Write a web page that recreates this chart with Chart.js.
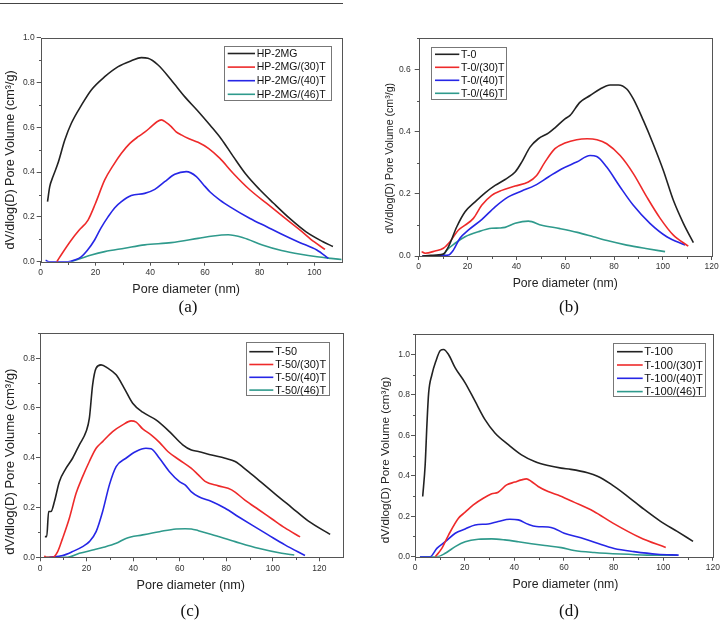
<!DOCTYPE html>
<html><head><meta charset="utf-8">
<script src="https://cdn.jsdelivr.net/npm/chart.js@4.4.1/dist/chart.umd.min.js"></script>
<style>
html,body{margin:0;padding:0;background:#fff;}
body{width:722px;height:621px;position:relative;overflow:hidden;}
canvas{position:absolute;}
.lab{position:absolute;font-family:'Liberation Serif','Times New Roman',serif;font-size:17px;color:#111;transform:translate(-50%,-50%);white-space:nowrap;z-index:2;}
#rule{position:absolute;left:0;top:3px;width:343px;height:1px;background:#444;}
</style></head><body>
<div id="rule"></div>
<canvas id="ca" width="361" height="300" style="left:0;top:0"></canvas>
<canvas id="cb" width="361" height="300" style="left:361px;top:0"></canvas>
<canvas id="cc" width="361" height="300" style="left:0;top:310px"></canvas>
<canvas id="cd" width="361" height="300" style="left:361px;top:310px"></canvas>
<div class="lab" style="left:188px;top:307px">(a)</div>
<div class="lab" style="left:569px;top:307px">(b)</div>
<div class="lab" style="left:190px;top:611px">(c)</div>
<div class="lab" style="left:569px;top:611px">(d)</div>
<script>
// ---------- DATA ----------
const xTitle = 'Pore diameter (nm)';
const yTitle = 'dV/dlog(D) Pore Volume (cm\u00B3/g)';
const xTicksStep = 20;
const yTicksStep = 0.2;

// Panel (a)
const labelsA = ['HP-2MG', 'HP-2MG/(30)T', 'HP-2MG/(40)T', 'HP-2MG/(46)T'];
const a0x = [2.5,3.3,4.5,6.3,8.8,11.2,14.9,18.5,23.4,28.3,33.1,36.8,39.2,42.9,47.7,52.6,57.5,62,66,70.4,75,80,85,91,97,103,106.8];
const a0y = [0.268,0.335,0.38,0.439,0.543,0.618,0.699,0.767,0.826,0.871,0.897,0.911,0.908,0.878,0.811,0.737,0.672,0.608,0.548,0.469,0.39,0.322,0.262,0.193,0.133,0.09,0.068];
const a1x = [5.9,8,11.2,14,17.3,20,23.4,26.5,29.5,32.5,35.6,38,40.4,42.5,44.1,45.8,47.7,49.5,51.4,54,57.5,61.3,65.5,70.4,76.5,82.6,88.7,94.8,100,103.9];
const a1y = [0,0.04,0.097,0.14,0.186,0.26,0.365,0.43,0.484,0.527,0.558,0.578,0.603,0.625,0.633,0.622,0.603,0.58,0.566,0.55,0.533,0.506,0.461,0.394,0.32,0.26,0.2,0.141,0.088,0.055];
const a2x = [1.8,3,10,12.5,14.8,17,19.7,22,24.6,27,29.5,33.1,38,41.7,45.3,49,53.2,56.9,59.4,62,65.5,69.2,76.5,82.6,88.7,94.8,100.9,105.1];
const a2y = [0.006,0,0,0.008,0.022,0.05,0.097,0.15,0.2,0.24,0.268,0.295,0.305,0.323,0.357,0.39,0.402,0.38,0.345,0.31,0.275,0.245,0.193,0.156,0.119,0.085,0.052,0.015];
const a3x = [11.2,14,18.5,23.4,30.7,38,47.7,57.5,63,68.5,74,81,88,95,101,106,110];
const a3y = [0,0.012,0.03,0.045,0.06,0.075,0.085,0.104,0.115,0.12,0.107,0.075,0.05,0.033,0.022,0.015,0.01];

// Panel (b)
const labelsB = ['T-0', 'T-0/(30)T', 'T-0/(40)T', 'T-0/(46)T'];
const b0x = [1.5,5,10,12.2,15.6,19,23.1,27.2,31.3,35.4,39.5,42.2,45.6,49,53.1,55.8,59.9,62,66,70.2,74.3,78.4,81.8,85.2,87.9,92,96,100.2,104.3,108.4,112.5];
const b0y = [0,0.002,0.006,0.03,0.094,0.142,0.174,0.203,0.227,0.246,0.27,0.302,0.35,0.377,0.395,0.412,0.441,0.452,0.494,0.516,0.537,0.55,0.55,0.537,0.505,0.436,0.361,0.275,0.179,0.105,0.043];
const b1x = [1.2,2.6,6.7,10.1,12.8,16.2,19,22.4,25.8,29.9,34,39.5,44.9,48.3,51.7,55.8,59.9,64.7,69,73,77,82.5,87.9,93.4,98.9,104.3,110.4];
const b1y = [0.014,0.009,0.016,0.025,0.046,0.083,0.099,0.121,0.163,0.195,0.211,0.225,0.238,0.259,0.302,0.345,0.363,0.374,0.377,0.374,0.361,0.323,0.265,0.19,0.121,0.067,0.032];
const b2x = [1.5,6,10,12.2,14.2,16.9,20.3,25.8,31.3,36.7,42.2,47.6,53.1,58.5,64.7,70.2,72.9,77,82.5,87.9,94.7,101.6,109.1];
const b2y = [0,0,0.002,0.003,0.019,0.057,0.083,0.117,0.158,0.19,0.209,0.227,0.254,0.28,0.302,0.323,0.32,0.286,0.222,0.163,0.105,0.062,0.035];
const b3x = [1.5,6,10,11.5,14.9,19,24.4,29.9,33,35.4,39.5,44.9,50.4,57.9,65,71.5,78,85.2,93,100.9];
const b3y = [0,0,0.003,0.019,0.041,0.062,0.078,0.089,0.09,0.092,0.105,0.112,0.099,0.088,0.076,0.062,0.048,0.035,0.024,0.014];

// Panel (c)
const labelsC = ['T-50', 'T-50/(30)T', 'T-50/(40)T', 'T-50/(46)T'];
const c0x = [2.1,2.9,3.7,4.7,6.2,8.3,11.2,14,16.9,19.8,21.2,22.6,24.1,26.2,29.1,32.7,36.2,39.8,44.1,49.8,55.6,61.3,65,68,73.7,79.5,83.8,89.5,95.2,100.9,108.1,115.3,124.6];
const c0y = [0.083,0.083,0.184,0.184,0.224,0.304,0.358,0.398,0.452,0.505,0.559,0.693,0.76,0.773,0.76,0.733,0.679,0.619,0.583,0.552,0.505,0.452,0.431,0.425,0.411,0.398,0.385,0.344,0.3,0.255,0.2,0.145,0.092];
const c1x = [1.9,2.5,5.4,7.6,9.7,12.6,15.5,18.3,21.2,24.1,26.9,31.2,35.5,39.1,41.3,44.1,47.7,51.3,54.9,59.9,64.9,68,70.9,76.6,82.3,88,93.8,99.5,105.2,111.7];
const c1y = [0.006,0,0,0.023,0.076,0.157,0.257,0.324,0.385,0.438,0.465,0.505,0.532,0.548,0.543,0.516,0.492,0.462,0.425,0.391,0.358,0.331,0.305,0.287,0.271,0.23,0.192,0.155,0.118,0.082];
const c2x = [4,9.7,14,18.3,21.2,24.1,26.9,29.8,32.7,36.9,41.2,45.5,47.7,51.3,55.6,59.9,62.3,64.9,68,73.7,79.5,85.2,90.9,98,105.2,113.8];
const c2y = [0,0.007,0.023,0.043,0.063,0.103,0.184,0.291,0.364,0.398,0.425,0.438,0.436,0.398,0.344,0.304,0.291,0.264,0.244,0.224,0.197,0.163,0.13,0.09,0.05,0.007];
const c3x = [2,11.9,16.9,22.6,26.9,32.7,36.9,44.1,51.3,58.4,62.3,65,68,73.7,83.8,93.8,103.8,109.2];
const c3y = [0,0,0.016,0.029,0.039,0.056,0.076,0.09,0.103,0.114,0.115,0.114,0.107,0.092,0.063,0.036,0.016,0.009];

// Panel (d)
const labelsD = ['T-100', 'T-100/(30)T', 'T-100/(40)T', 'T-100/(46)T'];
const d0x = [3.1,4.1,4.8,5.5,6.8,8.4,10.2,11.5,13.5,16.2,20.2,24.2,28.2,32.2,37.6,42.9,48.2,53.6,58.9,62.8,69.5,73.5,78.8,85.5,92.2,98.9,105.6,112];
const d0y = [0.298,0.455,0.653,0.81,0.9,0.967,1.02,1.025,1.0,0.934,0.86,0.769,0.678,0.612,0.554,0.504,0.471,0.451,0.438,0.432,0.415,0.398,0.36,0.3,0.235,0.175,0.125,0.076];
const d1x = [8.2,10.8,13.5,17.5,20.2,23.5,27.5,30.9,33.5,36.9,40.2,42.9,44.9,46.9,49.6,53.6,58.5,64,71.9,79.9,90.6,101];
const d1y = [0,0.041,0.107,0.19,0.22,0.256,0.289,0.311,0.319,0.355,0.369,0.38,0.385,0.372,0.347,0.322,0.3,0.27,0.225,0.165,0.095,0.045];
const d2x = [2,6.1,8.8,12.2,16.2,20.2,24.2,29.5,33.5,38.2,41.6,45.6,48.9,53.6,56.1,60.1,66.8,73.5,80.2,88.2,97.6,106.2];
const d2y = [0,0,0.041,0.074,0.116,0.137,0.157,0.162,0.174,0.185,0.182,0.16,0.149,0.147,0.14,0.116,0.094,0.066,0.041,0.025,0.012,0.008];
const d3x = [2,8.8,12.2,16.2,20.2,25.5,30.9,36.2,41.6,46.9,52.3,58.9,64.1,72.2,82.9,93.5,105.6];
const d3y = [0,0,0.017,0.05,0.074,0.086,0.088,0.083,0.074,0.064,0.055,0.045,0.031,0.021,0.013,0.008,0.007];

const seriesColors = ['#222222', '#ee2a2a', '#2626e6', '#2f9a8c'];

// ---------- HELPERS ----------
const FONT = "'Liberation Sans', Arial, Helvetica, sans-serif";
function pts(xs, ys) { return xs.map((x, i) => ({x: x, y: ys[i]})); }

const framePlugin = {
  id: 'frame',
  afterDatasetsDraw(chart, args, opts) {
    const ctx = chart.ctx, a = chart.chartArea;
    const sx = chart.scales.x, sy = chart.scales.y;
    ctx.save();
    ctx.strokeStyle = '#555';
    ctx.lineWidth = 1;
    ctx.strokeRect(Math.round(a.left) + 0.5, Math.round(a.top) + 0.5, Math.round(a.right) - Math.round(a.left), Math.round(a.bottom) - Math.round(a.top));
    ctx.beginPath();
    const bY = Math.round(a.bottom) + 0.5;
    for (let v = opts.xMinor; v < sx.max; v += opts.xMinor * 2) {
      const px = Math.round(sx.getPixelForValue(v)) + 0.5;
      ctx.moveTo(px, bY); ctx.lineTo(px, bY + opts.minorLen);
    }
    const lX = Math.round(a.left) + 0.5;
    for (let k = 1; k * opts.yMinor < sy.max + 1e-9; k += 2) {
      const py = Math.round(sy.getPixelForValue(k * opts.yMinor)) + 0.5;
      ctx.moveTo(lX, py); ctx.lineTo(lX - opts.minorLen, py);
    }
    ctx.stroke();
    ctx.restore();
  }
};

const titlePlugin = {
  id: 'axTitles',
  afterDraw(chart, args, o) {
    const ctx = chart.ctx;
    ctx.save();
    ctx.fillStyle = '#222';
    ctx.textAlign = 'center';
    ctx.textBaseline = 'middle';
    ctx.font = o.xSize + 'px ' + FONT;
    ctx.fillText(o.xText, o.xX, o.xY);
    ctx.translate(o.yX, o.yY);
    ctx.rotate(-Math.PI / 2);
    ctx.font = o.ySize + 'px ' + FONT;
    ctx.fillText(o.yText, 0, 0);
    ctx.restore();
  }
};

const boxLegendPlugin = {
  id: 'boxLegend',
  afterDraw(chart, args, o) {
    const ctx = chart.ctx;
    ctx.save();
    ctx.fillStyle = '#fff';
    ctx.fillRect(o.x, o.y, o.w, o.h);
    ctx.strokeStyle = '#777';
    ctx.lineWidth = 1;
    ctx.strokeRect(Math.round(o.x) + 0.5, Math.round(o.y) + 0.5, Math.round(o.w), Math.round(o.h));
    ctx.font = o.size + 'px ' + FONT;
    ctx.textBaseline = 'middle';
    ctx.textAlign = 'left';
    chart.data.datasets.forEach((ds, i) => {
      const yy = o.row0 + i * o.step;
      ctx.strokeStyle = ds.borderColor;
      ctx.lineWidth = 1.6;
      ctx.beginPath();
      ctx.moveTo(o.lx1, yy); ctx.lineTo(o.lx2, yy);
      ctx.stroke();
      ctx.fillStyle = '#111';
      ctx.fillText(ds.label, o.tx, yy + 0.5);
    });
    ctx.restore();
  }
};

function makePanel(id, labels, xs, ys, p) {
  const datasets = labels.map((lab, i) => ({
    label: lab,
    data: pts(xs[i], ys[i]),
    borderColor: seriesColors[i],
    backgroundColor: seriesColors[i],
    borderWidth: 1.6,
    pointRadius: 0,
    fill: false,
    cubicInterpolationMode: 'monotone'
  }));
  const tickFont = {family: FONT, size: p.tickSize};
  return new Chart(document.getElementById(id), {
    type: 'line',
    data: {datasets: datasets},
    options: {
      responsive: false,
      animation: false,
      events: [],
      layout: {padding: {left: 0, top: p.area.top, right: 361 - p.area.right, bottom: 0}},
      scales: {
        x: {
          type: 'linear', position: 'bottom', min: 0, max: p.xMax,
          afterFit: s => { s.height = 300 - p.area.bottom; },
          border: {display: false},
          grid: {drawOnChartArea: false, drawTicks: true, tickLength: 4, tickColor: '#555', tickWidth: 1},
          ticks: {stepSize: xTicksStep, includeBounds: false, autoSkip: false, maxRotation: 0, padding: p.xPad, color: '#333', font: tickFont}
        },
        y: {
          type: 'linear', position: 'left', min: 0, max: p.yMax,
          afterFit: s => { s.width = p.area.left; },
          border: {display: false},
          grid: {drawOnChartArea: false, drawTicks: true, tickLength: 4, tickColor: '#555', tickWidth: 1},
          ticks: {stepSize: yTicksStep, includeBounds: false, autoSkip: false, padding: p.yPad, color: '#333', font: tickFont,
                  callback: v => Number(v).toFixed(1)}
        }
      },
      plugins: {
        legend: {display: false},
        tooltip: {enabled: false},
        frame: {xMinor: 10, yMinor: 0.1, minorLen: 2.5},
        axTitles: Object.assign({xText: xTitle, yText: yTitle}, p.titles),
        boxLegend: p.legend
      }
    },
    plugins: [framePlugin, titlePlugin, boxLegendPlugin]
  });
}

makePanel('ca', labelsA, [a0x, a1x, a2x, a3x], [a0y, a1y, a2y, a3y], {
  area: {left: 40.7, top: 37.7, right: 341.7, bottom: 261.7}, xMax: 110, yMax: 1.0,
  tickSize: 8.5, xPad: 1.5, yPad: 2,
  titles: {xX: 186.2, xY: 289.4, xSize: 12.5, yX: 11, yY: 160, ySize: 12.6},
  legend: {x: 223.5, y: 46, w: 106.5, h: 53.5, row0: 53.5, step: 13.6, lx1: 227.7, lx2: 255, tx: 256.7, size: 10.5}
});
makePanel('cb', labelsB, [b0x, b1x, b2x, b3x], [b0y, b1y, b2y, b3y], {
  area: {left: 57.7, top: 38.3, right: 350.7, bottom: 256}, xMax: 120, yMax: 0.7,
  tickSize: 8.5, xPad: 2, yPad: 4,
  titles: {xX: 204.2, xY: 284, xSize: 12.2, yX: 29.3, yY: 158.3, ySize: 10.6},
  legend: {x: 70, y: 46.7, w: 75, h: 52.3, row0: 54.3, step: 13, lx1: 74, lx2: 98.3, tx: 100, size: 10.6}
});
makePanel('cc', labelsC, [c0x, c1x, c2x, c3x], [c0y, c1y, c2y, c3y], {
  area: {left: 40, top: 23.3, right: 342.7, bottom: 247.3}, xMax: 130, yMax: 0.9,
  tickSize: 8.5, xPad: 2, yPad: 1,
  titles: {xX: 190.8, xY: 276, xSize: 12.6, yX: 10, yY: 151.7, ySize: 13.1},
  legend: {x: 245.7, y: 32.3, w: 82.6, h: 53.4, row0: 41.7, step: 12.8, lx1: 249.3, lx2: 273.3, tx: 275.3, size: 10.9}
});
makePanel('cd', labelsD, [d0x, d1x, d2x, d3x], [d0y, d1y, d2y, d3y], {
  area: {left: 54, top: 24.3, right: 353.3, bottom: 246.7}, xMax: 120, yMax: 1.1,
  tickSize: 8.5, xPad: 2, yPad: 1,
  titles: {xX: 204.5, xY: 275, xSize: 12.3, yX: 25, yY: 150, ySize: 11.7},
  legend: {x: 251.7, y: 32.7, w: 91.6, h: 53.3, row0: 41.7, step: 13.3, lx1: 256, lx2: 281.7, tx: 283.3, size: 11.2}
});
</script>
</body></html>
